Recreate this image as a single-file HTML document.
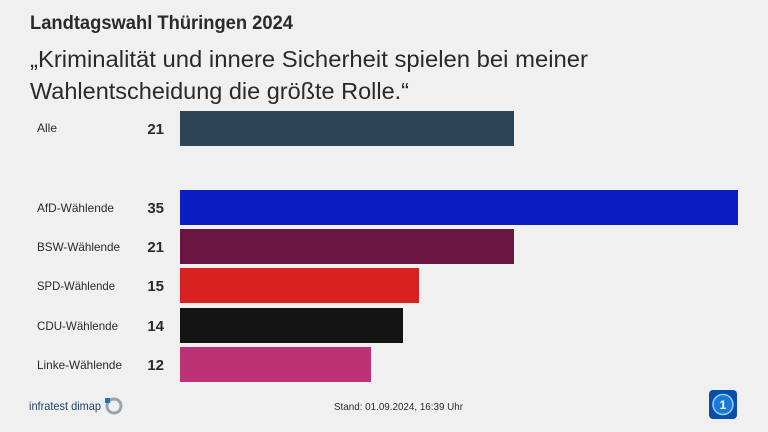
<!DOCTYPE html>
<html><head><meta charset="utf-8"><style>
html,body{margin:0;padding:0;background:#f0f0f0;}
svg{display:block;font-family:"Liberation Sans",sans-serif;}
</style></head><body>
<svg width="768" height="432" viewBox="0 0 768 432" xmlns="http://www.w3.org/2000/svg">
<rect width="768" height="432" fill="#f0f0f0"/>
<text x="30" y="29" font-size="19" font-weight="bold" fill="#2a2a2a" textLength="263" lengthAdjust="spacingAndGlyphs">Landtagswahl Thüringen 2024</text>
<text x="30" y="67" font-size="23" fill="#2a2a2a" textLength="558" lengthAdjust="spacingAndGlyphs">„Kriminalität und innere Sicherheit spielen bei meiner</text>
<text x="30" y="99" font-size="23" fill="#2a2a2a" textLength="379" lengthAdjust="spacingAndGlyphs">Wahlentscheidung die größte Rolle.“</text>
<g font-size="12" fill="#2a2a2a">
<text x="37" y="132">Alle</text>
<text x="37" y="212" textLength="77" lengthAdjust="spacingAndGlyphs">AfD-Wählende</text>
<text x="37" y="251" textLength="83" lengthAdjust="spacingAndGlyphs">BSW-Wählende</text>
<text x="37" y="290" textLength="78" lengthAdjust="spacingAndGlyphs">SPD-Wählende</text>
<text x="37" y="330" textLength="81" lengthAdjust="spacingAndGlyphs">CDU-Wählende</text>
<text x="37" y="369" textLength="85" lengthAdjust="spacingAndGlyphs">Linke-Wählende</text>
</g>
<g font-size="15" font-weight="bold" fill="#2a2a2a" text-anchor="end">
<text x="164" y="134">21</text>
<text x="164" y="213">35</text>
<text x="164" y="252">21</text>
<text x="164" y="291">15</text>
<text x="164" y="331">14</text>
<text x="164" y="370">12</text>
</g>
<rect x="180" y="111" width="334" height="35" fill="#2b4457"/>
<rect x="180" y="190" width="558" height="35" fill="#0b1ec4"/>
<rect x="180" y="229" width="334" height="35" fill="#6a1640"/>
<rect x="180" y="268" width="239" height="35" fill="#d82222"/>
<rect x="180" y="308" width="223" height="35" fill="#131313"/>
<rect x="180" y="347" width="191" height="35" fill="#bd3175"/>
<text x="29" y="410" font-size="12" fill="#1f3f6a" textLength="72" lengthAdjust="spacingAndGlyphs">infratest dimap</text>
<circle cx="114" cy="406" r="7" fill="none" stroke="#9aa4ad" stroke-width="3"/>
<rect x="105" y="398" width="5" height="5" fill="#1f6fc2"/>
<text x="334" y="410" font-size="10" fill="#2a2a2a" textLength="129" lengthAdjust="spacingAndGlyphs">Stand:  01.09.2024, 16:39 Uhr</text>
<rect x="709" y="390" width="28" height="29" rx="4" fill="#0b4ea8"/>
<circle cx="723" cy="404.5" r="10" fill="#1a7ad8" stroke="#8fd0ff" stroke-width="1.5"/>
<text x="723" y="409" font-size="12" font-weight="bold" fill="#fff" text-anchor="middle">1</text>
</svg>
</body></html>
